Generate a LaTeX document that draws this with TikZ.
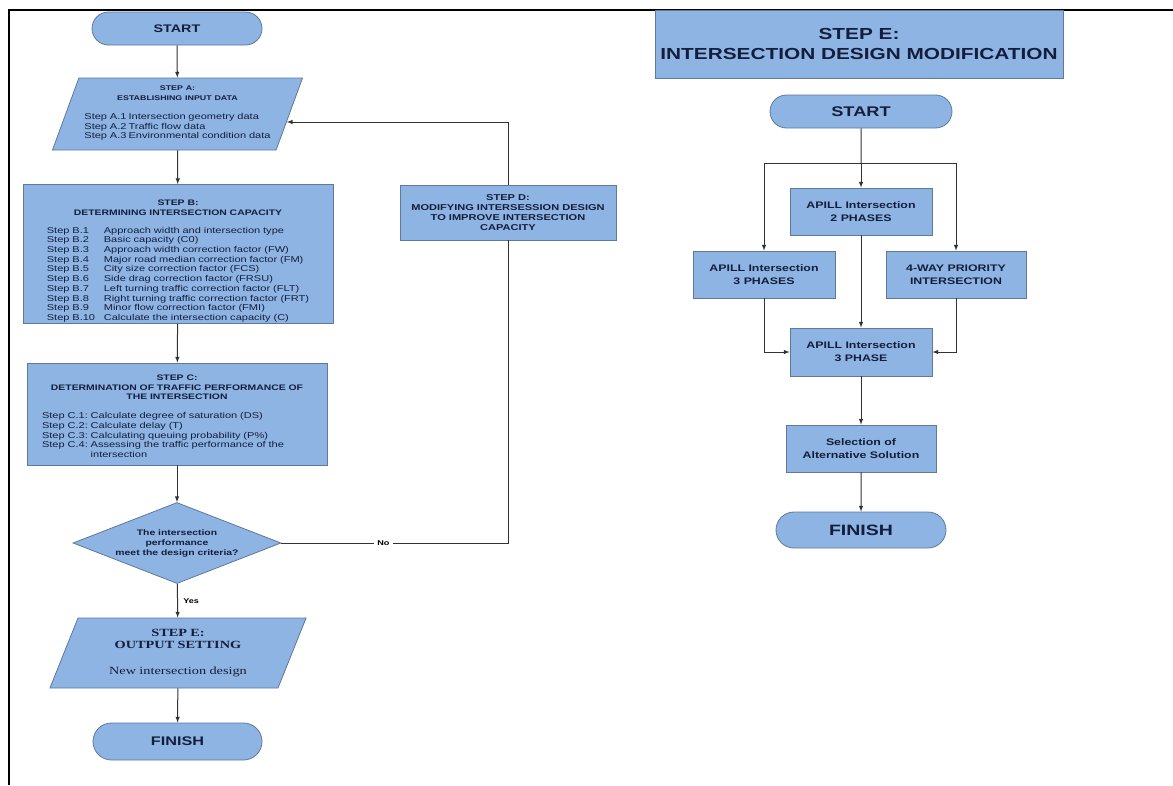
\documentclass[tikz,border=0pt]{standalone}
\usepackage{fontspec}
\setmainfont{Liberation Sans}[FakeStretch=1.3]
\newfontfamily\stepserif{Liberation Serif}[FakeStretch=1.3]
\usetikzlibrary{shapes.geometric,shapes.misc,calc}
\definecolor{boxblue}{RGB}{142,180,227}
\definecolor{boxline}{RGB}{95,120,155}
\definecolor{boxtext}{RGB}{20,30,60}
\tikzset{
  box/.style={draw=boxline, fill=boxblue, line width=0.8pt, text=boxtext, inner sep=0pt},
  procbox/.style={box, rectangle},
  termbox/.style={box, rounded rectangle, font=\bfseries},
  databox/.style={box, trapezium, trapezium stretches=true},
  decbox/.style={box, diamond, aspect=2.5},
  lnk/.style={line width=1pt, draw=black!80},
  arr/.style={lnk, -latex},
  smalltext/.style={font=\fontsize{8.5}{9.7}\selectfont},
  rbox/.style={procbox, align=center, font=\bfseries\fontsize{9.5}{13}\selectfont},
}

\begin{document}
\begin{tikzpicture}[x=1pt, y=-1pt]
\useasboundingbox (0,0) rectangle (1173,785);
\draw [line width=2pt] (9,785) -- (9,10) -- (1173,10);

\node (start)[termbox, minimum width=170pt, minimum height=33pt, font=\bfseries\fontsize{11}{13}\selectfont] at (177,28.5) {START};
\node (stepa)[databox, trapezium left angle=65.4, trapezium right angle=114.6, minimum width=251pt, minimum height=72pt, smalltext, text width=190pt, align=center] at (177.5,114) {%
  {\bfseries\fontsize{6.8}{9}\selectfont STEP A:\\ ESTABLISHING INPUT DATA}\\[11pt]
  \begin{tabular}{@{}l@{\hspace{2pt}}l@{}}
  Step A.1 & Intersection geometry data\\
  Step A.2 & Traffic flow data\\
  Step A.3 & Environmental condition data
  \end{tabular}};
\node (stepb)[procbox, minimum width=310pt, minimum height=138pt, smalltext, text width=285pt, align=center] at (178,254) {%
  {\bfseries\fontsize{8}{10}\selectfont \rule{0pt}{21pt}STEP B:\\ DETERMINING INTERSECTION CAPACITY}\\[10pt]
  \begin{tabular}{@{}p{57pt}@{}l@{}}
  Step B.1 & Approach width and intersection type\\
  Step B.2 & Basic capacity (C0)\\
  Step B.3 & Approach width correction factor (FW)\\
  Step B.4 & Major road median correction factor (FM)\\
  Step B.5 & City size correction factor (FCS)\\
  Step B.6 & Side drag correction factor (FRSU)\\
  Step B.7 & Left turning traffic correction factor (FLT)\\
  Step B.8 & Right turning traffic correction factor (FRT)\\
  Step B.9 & Minor flow correction factor (FMI)\\
  Step B.10 & Calculate the intersection capacity (C)
  \end{tabular}};
\node (stepc)[procbox, minimum width=300pt, minimum height=102pt, smalltext, text width=270pt, align=center] at (177,414) {%
  {\bfseries\fontsize{8}{9.5}\selectfont \rule{0pt}{13pt}STEP C:\\ DETERMINATION OF TRAFFIC PERFORMANCE OF\\ THE INTERSECTION}\\[11pt]
  \makebox[270pt][l]{\begin{tabular}{@{}l@{\ }l@{}}
  Step C.1: & Calculate degree of saturation (DS)\\
  Step C.2: & Calculate delay (T)\\
  Step C.3: & Calculating queuing probability (P\%)\\
  Step C.4: & Assessing the traffic performance of the\\
   & intersection
  \end{tabular}}};
\node (dia)[decbox, minimum width=208pt, minimum height=81pt, align=center, font=\bfseries\fontsize{8}{10}\selectfont] at (177,543) {The intersection\\ performance\\ meet the design criteria?};
\node (stepf)[databox, trapezium left angle=63.4, trapezium right angle=116.6, minimum width=257pt, minimum height=70pt, text width=170pt, align=center] at (178,653) {%
  {\stepserif\bfseries\fontsize{11}{16}\selectfont STEP E:\\ OUTPUT SETTING}\\[14pt]
  {\stepserif\fontsize{11}{14}\selectfont New intersection design}};
\node (finish)[termbox, minimum width=169pt, minimum height=37pt, font=\bfseries\fontsize{12.5}{14}\selectfont] at (177.5,741.5) {FINISH};
\node (stepd)[procbox, minimum width=216pt, minimum height=55pt, align=center, font=\bfseries\fontsize{8.5}{10}\selectfont] at (508,212.5) {STEP D:\\ MODIFYING INTERSESSION DESIGN\\ TO IMPROVE INTERSECTION\\ CAPACITY};

\draw [arr](start) -- (stepa);
\draw [arr](stepa) -- (stepb);
\draw [arr](stepb) -- (stepc);
\draw [arr](stepc) -- (dia);
\draw [arr](dia) -- node[right, xshift=2pt, font=\bfseries\fontsize{7}{8}\selectfont] {Yes} (stepf);
\draw [arr](stepf) -- (finish);
\draw [lnk](dia.east) -- node[pos=0.45, fill=white, font=\bfseries\fontsize{7}{8}\selectfont] {No} (dia.east -| stepd.south) -- (stepd.south);
\coordinate (ain) at ($(stepa.top right corner)!0.61!(stepa.bottom right corner)$);
\draw [arr](stepd.north) |- (ain);

% step E panel
\node (title)[procbox, minimum width=408pt, minimum height=68pt, align=center, font=\bfseries\fontsize{16}{20}\selectfont] at (859,44) {STEP E:\\ INTERSECTION DESIGN MODIFICATION};
\node (start2)[termbox, minimum width=182pt, minimum height=33pt, font=\bfseries\fontsize{14}{16}\selectfont] at (861,111.5) {START};
\node (ph2)[rbox, minimum width=142pt, minimum height=47pt] at (861,211.5) {APILL Intersection\\ 2 PHASES};
\node (ph3)[rbox, minimum width=142pt, minimum height=47pt] at (764,274.5) {APILL Intersection\\ 3 PHASES};
\node (way4)[rbox, minimum width=140pt, minimum height=47pt] at (956,274.5) {4-WAY PRIORITY\\ INTERSECTION};
\node (ph3b)[rbox, minimum width=142pt, minimum height=48pt] at (861,352) {APILL Intersection\\ 3 PHASE};
\node (sel)[rbox, minimum width=150pt, minimum height=47pt] at (861,448.5) {Selection of\\ Alternative Solution};
\node (finish2)[termbox, minimum width=170pt, minimum height=36pt, font=\bfseries\fontsize{15}{17}\selectfont] at (861,530) {FINISH};

\coordinate (split) at (861,163);
\draw [lnk](start2) -- (split);
\draw [arr](split) -- (ph2);
\draw [arr](split) -| (ph3);
\draw [arr](split) -| (way4);
\draw [arr](ph2) -- (ph3b);
\draw [arr](ph3) |- (ph3b);
\draw [arr](way4) |- (ph3b);
\draw [arr](ph3b) -- (sel);
\draw [arr](sel) -- (finish2);
\end{tikzpicture}
\end{document}
